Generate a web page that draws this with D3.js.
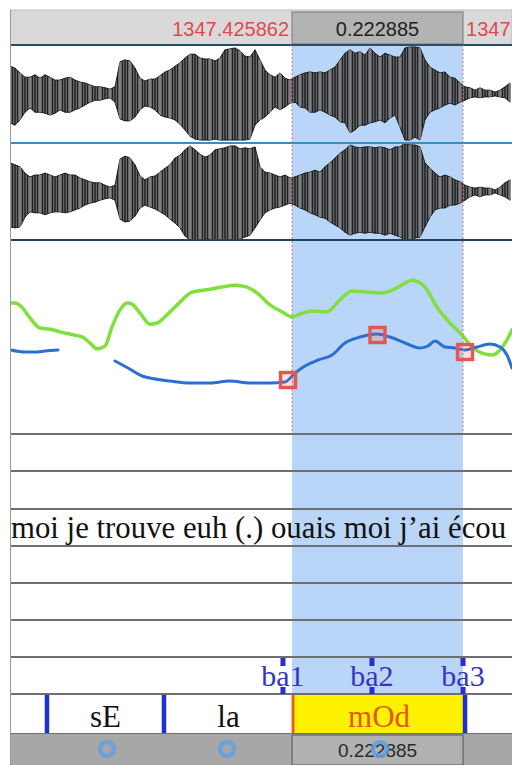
<!DOCTYPE html>
<html><head><meta charset="utf-8">
<script src="https://cdn.jsdelivr.net/npm/d3@7"></script>
<style>body{margin:0;background:#fff;overflow:hidden}svg{display:block}</style>
</head><body>
<script>
// ---------- DATA ----------
const viewDur = 0.65433;            // seconds visible (relative to window start)
const selStartAbs = 1347.425862;    // absolute selection start (s)
const selDur = 0.222885;            // selection duration (s)
const selStart = 0.3676;            // selection start relative to window (s)
const frameStep = 0.0065174;        // waveform envelope frame step (s)
const headerLeft = "1347.425862";
const headerMid = "0.222885";
const headerRight = "1347";         // visible part of the end time label

const ch1Up = [0.58,0.54,0.44,0.35,0.35,0.40,0.33,0.40,0.35,0.29,
  0.29,0.33,0.35,0.29,0.25,0.23,0.19,0.15,0.15,0.13,
  0.10,0.15,0.67,0.71,0.69,0.54,0.33,0.27,0.31,0.31,
  0.38,0.46,0.50,0.58,0.65,0.75,0.83,0.83,0.75,0.73,
  0.73,0.69,0.75,0.92,0.94,0.96,0.90,0.79,0.77,0.92,
  0.71,0.50,0.40,0.35,0.44,0.33,0.29,0.35,0.40,0.44,
  0.46,0.44,0.46,0.44,0.50,0.56,0.71,0.85,0.92,0.85,
  0.88,0.81,0.96,0.85,0.77,0.85,0.81,0.77,0.77,0.96,
  0.98,0.98,0.96,0.71,0.56,0.50,0.44,0.46,0.35,0.33,
  0.23,0.15,0.13,0.08,0.13,0.08,0.08,0.04,0.08,0.15,0.23];
const ch1Down = [-0.60,-0.65,-0.54,-0.38,-0.29,-0.38,-0.38,-0.40,-0.44,-0.40,
  -0.33,-0.38,-0.38,-0.33,-0.29,-0.23,-0.17,-0.13,-0.13,-0.10,
  -0.08,-0.17,-0.52,-0.56,-0.56,-0.48,-0.33,-0.25,-0.27,-0.33,
  -0.44,-0.48,-0.50,-0.54,-0.63,-0.75,-0.88,-0.94,-0.96,-0.96,
  -0.96,-0.94,-0.96,-0.96,-0.96,-0.96,-0.96,-0.96,-0.94,-0.65,
  -0.54,-0.48,-0.38,-0.27,-0.33,-0.27,-0.19,-0.17,-0.27,-0.29,
  -0.38,-0.38,-0.33,-0.38,-0.44,-0.48,-0.58,-0.60,-0.81,-0.75,
  -0.65,-0.65,-0.60,-0.58,-0.54,-0.60,-0.50,-0.44,-0.69,-0.96,
  -0.96,-0.90,-0.96,-0.54,-0.38,-0.33,-0.29,-0.23,-0.19,-0.23,
  -0.17,-0.13,-0.08,-0.06,-0.08,-0.06,-0.06,-0.04,-0.06,-0.08,-0.17];
const ch2Up = [0.59,0.55,0.51,0.38,0.30,0.34,0.34,0.38,0.34,0.30,
  0.34,0.38,0.34,0.34,0.28,0.24,0.20,0.18,0.18,0.13,
  0.09,0.13,0.67,0.73,0.69,0.55,0.32,0.24,0.30,0.32,
  0.40,0.48,0.55,0.69,0.75,0.86,0.94,0.86,0.77,0.71,
  0.75,0.86,0.88,0.90,0.94,0.94,0.88,0.90,0.88,0.92,
  0.51,0.40,0.38,0.34,0.30,0.34,0.28,0.30,0.34,0.38,
  0.40,0.44,0.40,0.51,0.59,0.69,0.79,0.86,0.96,0.92,
  0.90,0.92,0.92,0.90,0.92,0.90,0.86,0.92,0.92,1.00,
  0.96,0.96,0.92,0.59,0.48,0.38,0.30,0.34,0.30,0.24,
  0.20,0.13,0.09,0.07,0.09,0.07,0.07,0.03,0.09,0.18,0.24];
const ch2Down = [-0.73,-0.75,-0.73,-0.53,-0.42,-0.44,-0.44,-0.48,-0.44,-0.42,
  -0.42,-0.44,-0.42,-0.38,-0.34,-0.28,-0.24,-0.22,-0.18,-0.15,
  -0.13,-0.18,-0.57,-0.63,-0.61,-0.51,-0.34,-0.28,-0.32,-0.36,
  -0.42,-0.48,-0.57,-0.65,-0.75,-0.92,-1.00,-1.00,-1.00,-0.98,
  -0.98,-1.00,-1.00,-1.00,-1.00,-1.00,-0.98,-0.94,-0.90,-0.75,
  -0.59,-0.44,-0.38,-0.34,-0.32,-0.28,-0.24,-0.28,-0.34,-0.38,
  -0.44,-0.48,-0.53,-0.55,-0.63,-0.69,-0.75,-0.84,-0.90,-0.86,
  -0.84,-0.86,-0.84,-0.86,-0.86,-0.90,-0.86,-0.90,-0.94,-1.00,
  -1.00,-0.96,-0.94,-0.73,-0.53,-0.38,-0.34,-0.34,-0.28,-0.28,
  -0.24,-0.18,-0.11,-0.07,-0.11,-0.07,-0.07,-0.03,-0.07,-0.11,-0.18];

// intensity (dB)
const intTimes = [0.0013,0.0065,0.0156,0.0261,0.0391,0.0521,0.0652,0.0782,0.0938,0.1043,
  0.1134,0.1238,0.1330,0.1434,0.1525,0.1590,0.1694,0.1825,0.1916,0.2046,
  0.2216,0.2372,0.2568,0.2763,0.2933,0.3089,0.3219,0.3389,0.3545,0.3676,
  0.3780,0.3936,0.4132,0.4301,0.4458,0.4627,0.4849,0.5044,0.5240,0.5409,
  0.5566,0.5735,0.5892,0.6022,0.6152,0.6283,0.6387,0.6478,0.6543];
const intValues = [63.7,63.7,62.6,59.8,57.2,56.9,56.2,55.6,54.9,53.3,
  51.8,52.5,57.5,61.9,63.7,63.4,61.1,58.2,58.5,60.6,
  63.9,66.5,67.1,67.8,68.3,67.8,66.3,63.2,61.4,60.1,
  60.8,61.6,61.4,64.5,66.8,66.5,66.3,67.6,69.6,67.8,
  62.6,58.5,55.4,52.3,50.7,50.2,51.5,54.1,56.7];

// pitch (Hz), two voiced stretches
const pitch1Times = [0.0013,0.0196,0.0326,0.0456,0.0626];
const pitch1Values = [143,141,141,142,143];
const pitch2Times = [0.1369,0.1538,0.1721,0.1890,0.2085,0.2346,0.2607,0.2868,0.3128,0.3389,
  0.3584,0.3715,0.3845,0.4015,0.4197,0.4366,0.4562,0.4784,0.4953,0.5149,
  0.5344,0.5448,0.5540,0.5670,0.5800,0.5931,0.6087,0.6257,0.6387,0.6478,0.6543];
const pitch2Values = [132,125,117,114,112,110,110,112,110,110,
  111,120,127,133,138,150,156,159,156,150,
  145,147,152,146,145,143,146,149,146,138,125];

// stylised pitch targets (red squares)
const targetTimes = [0.3624,0.4790,0.5931];
const targetValues = [113,158,141];

// tiers
const transcript = "moi je trouve euh (.) ouais moi j\u2019ai \u00e9cou";
const transcriptStart = 0.0013;
const pointTimes = [0.3558,0.4718,0.5905];
const pointLabels = ["ba1","ba2","ba3"];
const boundaryTimes = [0.0482,0.2007,0.3689,0.5931];
const intervalLabels = ["sE","la","mOd"];
const selectedInterval = 2;
const ringTimes = [0.1264,0.2829,0.4823];

// ---------- DRAW ----------
const W = 512, H = 765;
const svg = d3.select("body").append("svg").attr("width", W).attr("height", H);
svg.append("rect").attr("width", W).attr("height", H).attr("fill", "#fff");
const defs = svg.append("defs");
defs.append("clipPath").attr("id","clip").append("rect").attr("x",10).attr("y",0).attr("width",502).attr("height",H);
const g = svg.append("g").attr("clip-path","url(#clip)");

const x = d3.scaleLinear().domain([0, viewDur]).range([10, 512]);
const y1 = d3.scaleLinear().domain([-1, 1]).range([142, 46]);
const y2 = d3.scaleLinear().domain([-1, 1]).range([240, 143]);
const yP = d3.scaleLinear().domain([60, 253]).range([433, 240]);
const yI = d3.scaleLinear().domain([30, 80]).range([433, 240]);
const selEnd = selStart + selDur;

// selection background
g.append("rect").attr("x", x(selStart)).attr("y", 45).attr("width", x(selEnd)-x(selStart)).attr("height", 694-45).attr("fill", "#b9d5f7");

// selected interval yellow
g.append("rect").attr("x", x(boundaryTimes[selectedInterval])).attr("y", 695)
  .attr("width", x(boundaryTimes[selectedInterval+1]) - x(boundaryTimes[selectedInterval])).attr("height", 39).attr("fill", "#fff200");

// header
g.append("rect").attr("x",10).attr("y",10).attr("width",502).attr("height",35).attr("fill","#d9d9d9").attr("stroke","#bdbdbd");
g.append("rect").attr("x",x(selStart)).attr("y",12).attr("width",x(selEnd)-x(selStart)).attr("height",32)
  .attr("fill","#b3b3b3").attr("stroke","#7a7a7a").attr("stroke-width",1);
const hdrFont = "'Liberation Sans', Arial, Helvetica, sans-serif";
g.append("text").attr("x", x(selStart)-3).attr("y", 36).attr("text-anchor","end")
  .attr("font-family",hdrFont).attr("font-size",20).attr("fill","#e0484d").text(headerLeft);
g.append("text").attr("x", (x(selStart)+x(selEnd))/2).attr("y", 36).attr("text-anchor","middle")
  .attr("font-family",hdrFont).attr("font-size",20).attr("fill","#222").text(headerMid);
g.append("text").attr("x", x(selEnd)+3).attr("y", 36)
  .attr("font-family",hdrFont).attr("font-size",20).attr("fill","#e0484d").text(headerRight);

// waveforms
function drawWave(up, down, ys) {
  const frames = up.map((u,i)=>({t:i*frameStep, u, d:down[i]}));
  const area = d3.area().x(d=>x(d.t)).y0(d=>ys(d.d)).y1(d=>ys(d.u)).curve(d3.curveLinear);
  g.append("path").datum(frames).attr("d", area).attr("fill", "#555").attr("fill-opacity",0.9)
    .attr("stroke","#222").attr("stroke-width",1);
  g.selectAll(null).data(frames).enter().append("line")
    .attr("x1", d=>x(d.t)).attr("x2", d=>x(d.t))
    .attr("y1", d=>ys(d.u)).attr("y2", d=>ys(d.d))
    .attr("stroke", (d,i)=> i%2 ? "#141414" : "#909090").attr("stroke-width", 1.2);
  g.selectAll(null).data(frames.slice(0,-1)).enter().append("line")
    .attr("x1", (d,i)=>x(d.t+frameStep/2)).attr("x2", (d,i)=>x(d.t+frameStep/2))
    .attr("y1", (d,i)=>ys((d.u+frames[i+1].u)/2)).attr("y2", (d,i)=>ys((d.d+frames[i+1].d)/2))
    .attr("stroke", "#1e1e1e").attr("stroke-width", 1);
}
drawWave(ch1Up, ch1Down, y1);
drawWave(ch2Up, ch2Down, y2);

// waveform frame lines
g.append("line").attr("x1",10).attr("x2",512).attr("y1",45).attr("y2",45).attr("stroke","#24506e").attr("stroke-width",2);
g.append("line").attr("x1",10).attr("x2",512).attr("y1",143).attr("y2",143).attr("stroke","#3a8cc8").attr("stroke-width",2);
g.append("line").attr("x1",10).attr("x2",512).attr("y1",240).attr("y2",240).attr("stroke","#1f4560").attr("stroke-width",2);

// intensity (green)
const intData = intTimes.map((t,i)=>({t, v:intValues[i]}));
g.append("path").datum(intData).attr("fill","none").attr("stroke","#7fe03c").attr("stroke-width",3.5)
  .attr("stroke-linejoin","round").attr("stroke-linecap","round")
  .attr("d", d3.line().x(d=>x(d.t)).y(d=>yI(d.v)).curve(d3.curveMonotoneX));

// pitch (blue)
[[pitch1Times,pitch1Values],[pitch2Times,pitch2Values]].forEach(([ts,vs])=>{
  const data = ts.map((t,i)=>({t, v:vs[i]}));
  g.append("path").datum(data).attr("fill","none").attr("stroke","#2b6fd4").attr("stroke-width",3)
    .attr("stroke-linejoin","round").attr("stroke-linecap","round")
    .attr("d", d3.line().x(d=>x(d.t)).y(d=>yP(d.v)).curve(d3.curveMonotoneX));
});

// target squares
g.selectAll(null).data(targetTimes).enter().append("rect")
  .attr("x", (d)=>x(d)-7.5).attr("y",(d,i)=>yP(targetValues[i])-7.5)
  .attr("width",15).attr("height",15)
  .attr("fill","rgba(230,90,80,0.18)").attr("stroke","#e5574e").attr("stroke-width",3.4);

// selection dotted lines
[selStart, selEnd].forEach(t=>{
  g.append("line").attr("x1",x(t)).attr("x2",x(t)).attr("y1",45).attr("y2",434)
    .attr("stroke","#d9707a").attr("stroke-width",1).attr("stroke-dasharray","2,2");
});

// tier separator lines
const tierLines = [434,471,509,546,583,620,657,694,734];
tierLines.forEach(yy=>{
  g.append("line").attr("x1",10).attr("x2",512).attr("y1",yy).attr("y2",yy).attr("stroke","#6f6f6f").attr("stroke-width",2);
});

const serif = "'Liberation Serif', 'Times New Roman', Times, serif";
// transcript tier
g.append("text").attr("x", x(transcriptStart)).attr("y", 538).attr("font-family", serif)
  .attr("font-size", 30.8).attr("fill","#111").text(transcript);

// point tier
pointTimes.forEach((t,i)=>{
  g.append("rect").attr("x",x(t)-2.5).attr("y",658).attr("width",5).attr("height",8).attr("fill","#2b2bd6");
  g.append("rect").attr("x",x(t)-2.5).attr("y",687).attr("width",5).attr("height",7).attr("fill","#2b2bd6");
  g.append("text").attr("x",x(t)).attr("y",686).attr("text-anchor","middle").attr("font-family",serif)
    .attr("font-size",30).attr("fill","#3535c2").text(pointLabels[i]);
});

// interval tier
boundaryTimes.forEach((t,i)=>{
  const sel = (i===selectedInterval);
  g.append("line").attr("x1",x(t)).attr("x2",x(t)).attr("y1",695).attr("y2",733)
    .attr("stroke", sel ? "#e8641a" : "#1f2fd6").attr("stroke-width", sel ? 3 : 4.5);
});
intervalLabels.forEach((lab,i)=>{
  const cx = (x(boundaryTimes[i])+x(boundaryTimes[i+1]))/2;
  g.append("text").attr("x",cx).attr("y",727).attr("text-anchor","middle").attr("font-family",serif)
    .attr("font-size",31).attr("fill", i===selectedInterval ? "#e0571c" : "#111").text(lab);
});

// bottom bar
g.append("rect").attr("x",10).attr("y",734).attr("width",502).attr("height",31).attr("fill","#a7a7a7");
g.append("rect").attr("x",x(selStart)).attr("y",735).attr("width",x(selEnd)-x(selStart)).attr("height",30)
  .attr("fill","#b1b1b1").attr("stroke","#555").attr("stroke-width",1);
g.append("text").attr("x",(x(selStart)+x(selEnd))/2).attr("y",757).attr("text-anchor","middle")
  .attr("font-family",hdrFont).attr("font-size",19).attr("fill","#2a2a2a").text(headerMid);
g.selectAll(null).data(ringTimes).enter().append("circle")
  .attr("cx", d=>x(d)).attr("cy", 749).attr("r", 7)
  .attr("fill","none").attr("stroke","#62a2de").attr("stroke-width",4.5).attr("stroke-opacity",0.85);

// left border
svg.append("line").attr("x1",10.5).attr("x2",10.5).attr("y1",10).attr("y2",765).attr("stroke","#9a9a9a").attr("stroke-width",1);
</script>
</body></html>
